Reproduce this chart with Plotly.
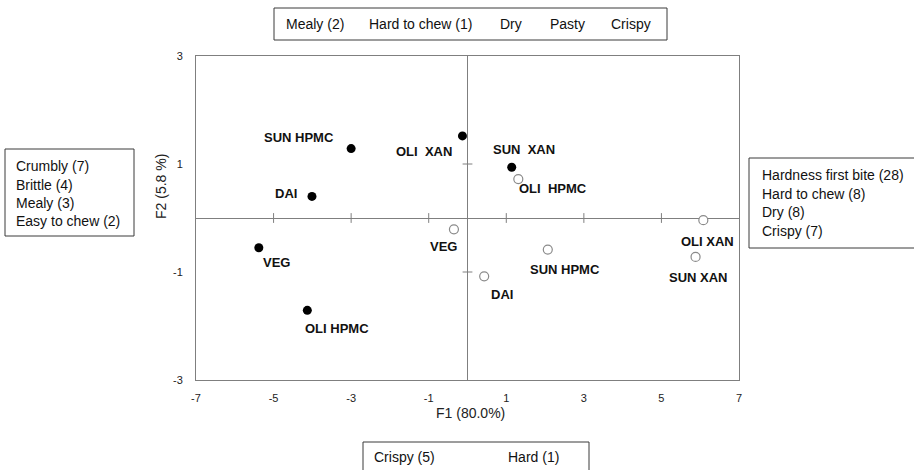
import plotly.graph_objects as go

# ---- data ----
filled_labels = ["SUN HPMC", "OLI\u00a0 XAN", "SUN\u00a0 XAN", "DAI", "VEG", "OLI HPMC"]
filled_x = [-3.00, -0.13, 1.14, -4.01, -5.38, -4.13]
filled_y = [1.285, 1.52, 0.94, 0.40, -0.55, -1.71]

open_labels = ["OLI\u00a0 HPMC", "VEG", "DAI", "SUN HPMC", "OLI XAN", "SUN XAN"]
open_x = [1.31, -0.35, 0.43, 2.07, 6.08, 5.88]
open_y = [0.72, -0.21, -1.08, -0.585, -0.04, -0.72]

x_ticks = [-7, -5, -3, -1, 1, 3, 5, 7]
y_ticks = [-3, -1, 1, 3]

top_box_terms = ["Mealy (2)", "Hard to chew (1)", "Dry", "Pasty", "Crispy"]
left_box_terms = ["Crumbly (7)", "Brittle (4)", "Mealy (3)", "Easy to chew (2)"]
right_box_terms = ["Hardness first bite (28)", "Hard to chew (8)", "Dry (8)", "Crispy (7)"]
bottom_box_terms = ["Crispy (5)", "Hard (1)"]

x_title = "F1 (80.0%)"
y_title = "F2 (5.8 %)"

# ---- layout geometry (window pixels) ----
W, H = 914, 470
L, R, T, B = 196, 739, 56, 380          # plot area in window pixels
FONT = "Liberation Sans, Arial, sans-serif"
GRAY = "#7f7f7f"
BOXC = "#3a3a3a"


def px(x):
    return (x - L) / (R - L)


def py(y):
    return (B - y) / (B - T)


fig = go.Figure()

# tick marks on the zero lines
inner_x = [v for v in x_ticks if abs(v) != 7]
inner_y = [v for v in y_ticks if abs(v) != 3]
fig.add_trace(go.Scatter(x=inner_x, y=[0] * len(inner_x), mode="markers",
                         marker=dict(symbol="line-ns", size=7,
                                     line=dict(color=GRAY, width=1)),
                         hoverinfo="skip", showlegend=False))
fig.add_trace(go.Scatter(x=[0] * len(inner_y), y=inner_y, mode="markers",
                         marker=dict(symbol="line-ew", size=7,
                                     line=dict(color=GRAY, width=1)),
                         hoverinfo="skip", showlegend=False))

fig.add_trace(go.Scatter(x=filled_x, y=filled_y, mode="markers",
                         marker=dict(size=9, color="black", line=dict(width=0)),
                         text=filled_labels, showlegend=False))
fig.add_trace(go.Scatter(x=open_x, y=open_y, mode="markers",
                         marker=dict(size=9, color="white",
                                     line=dict(color="#8a8a8a", width=1.2)),
                         text=open_labels, showlegend=False))

# label offsets (pixels) relative to each point
filled_off = [(-52, 11), (-38, -16), (12, 18), (-26, 3), (18, -15), (30, -18)]
open_off = [(35, -9), (-10, -17), (18, -18), (17, -20), (4, -21), (3, -21)]

ann = []
for lab, x, y, (dx, dy) in zip(filled_labels, filled_x, filled_y, filled_off):
    ann.append(dict(x=x, y=y, xref="x", yref="y", text=lab, showarrow=False,
                    xshift=dx, yshift=dy,
                    font=dict(family=FONT, size=13, color="#111111", weight="bold")))
for lab, x, y, (dx, dy) in zip(open_labels, open_x, open_y, open_off):
    ann.append(dict(x=x, y=y, xref="x", yref="y", text=lab, showarrow=False,
                    xshift=dx, yshift=dy,
                    font=dict(family=FONT, size=13, color="#111111", weight="bold")))

# axis titles
ann.append(dict(x=px(470), y=py(423), xref="paper", yref="paper", text=x_title,
                showarrow=False, font=dict(family=FONT, size=14, color="#222")))
ann.append(dict(x=px(151), y=py(187), xref="paper", yref="paper", text=y_title,
                showarrow=False, textangle=-90,
                font=dict(family=FONT, size=14, color="#222")))

shapes = []


def box(x0, y0, x1, y1, open_right=False, open_bottom=False):
    X0, X1, Y0, Y1 = px(x0), px(x1), py(y1), py(y0)
    if open_right:
        path = f"M{X1},{Y1} L{X0},{Y1} L{X0},{Y0} L{X1},{Y0}"
        shapes.append(dict(type="path", xref="paper", yref="paper", path=path,
                           line=dict(color=BOXC, width=1), layer="above"))
    elif open_bottom:
        path = f"M{X0},{Y0} L{X0},{Y1} L{X1},{Y1} L{X1},{Y0}"
        shapes.append(dict(type="path", xref="paper", yref="paper", path=path,
                           line=dict(color=BOXC, width=1), layer="above"))
    else:
        shapes.append(dict(type="rect", xref="paper", yref="paper",
                           x0=X0, x1=X1, y0=Y0, y1=Y1,
                           line=dict(color=BOXC, width=1), fillcolor="white",
                           layer="above"))


def txt(x, y, s):
    ann.append(dict(x=px(x), y=py(y), xref="paper", yref="paper", text=s,
                    showarrow=False, xanchor="left", yanchor="middle",
                    font=dict(family=FONT, size=14, color="#111")))


# top box
box(274, 8, 667, 40)
for s, xs in zip(top_box_terms, [284, 367, 498, 548, 609]):
    txt(xs, 24, s)

# left box
box(5, 149, 134, 236)
for i, s in enumerate(left_box_terms):
    txt(14, 166 + 18.5 * i, s)

# right box (runs off the right edge)
box(749, 158, 930, 248, open_right=True)
for i, s in enumerate(right_box_terms):
    txt(760, 175 + 18.5 * i, s)

# bottom box (runs off the bottom edge)
box(363, 442, 589, 480, open_bottom=True)
for s, xs in zip(bottom_box_terms, [372, 506]):
    txt(xs, 457, s)

fig.update_layout(
    width=W, height=H,
    margin=dict(l=L, r=W - R, t=T, b=H - B, pad=0),
    paper_bgcolor="white", plot_bgcolor="white",
    font=dict(family=FONT, size=11, color="#222"),
    annotations=ann, shapes=shapes,
    xaxis=dict(range=[-7, 7], tickvals=x_ticks, ticktext=[str(v) for v in x_ticks],
               showgrid=False,
               zeroline=True, zerolinecolor=GRAY, zerolinewidth=1,
               showline=True, mirror=True, linecolor=GRAY, linewidth=1,
               ticks="outside", ticklen=8, tickcolor="rgba(0,0,0,0)",
               tickfont=dict(size=11, color="#222")),
    yaxis=dict(range=[-3, 3], tickvals=y_ticks, ticktext=[str(v) for v in y_ticks],
               showgrid=False,
               zeroline=True, zerolinecolor=GRAY, zerolinewidth=1,
               showline=True, mirror=True, linecolor=GRAY, linewidth=1,
               ticks="outside", ticklen=10, tickcolor="rgba(0,0,0,0)",
               tickfont=dict(size=11, color="#222")),
)

# remove the default 8px page margin so the figure sits at the window's corner
fig.write_html("out.html",
               config={"displayModeBar": False},
               post_script="document.body.style.margin='0';document.body.style.overflow='hidden';")
